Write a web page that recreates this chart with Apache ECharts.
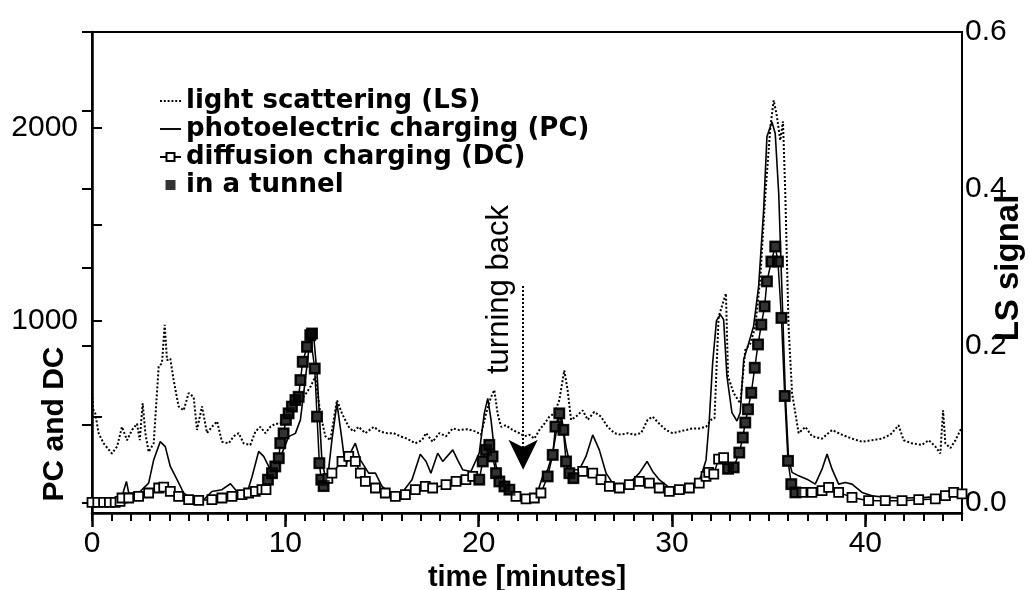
<!DOCTYPE html>
<html><head><meta charset="utf-8">
<script src="https://cdn.jsdelivr.net/npm/echarts@6/dist/echarts.min.js"></script>
<style>html,body{margin:0;padding:0;background:#fff}#c{width:1029px;height:590px}</style>
</head><body><div id="c"></div>
<script>
// time [minutes], LS signal
const lsData = [[0.0,0.14],[0.05,0.12],[0.17,0.114],[0.34,0.089],[0.6,0.076],[1.03,0.063],[1.3,0.072],[1.55,0.097],[1.81,0.080],[2.07,0.093],[2.33,0.101],[2.47,0.080],[2.62,0.127],[2.76,0.089],[2.93,0.065],[3.19,0.076],[3.45,0.174],[3.62,0.178],[3.76,0.227],[3.88,0.182],[4.05,0.184],[4.22,0.157],[4.48,0.123],[4.74,0.118],[5.0,0.140],[5.26,0.135],[5.43,0.093],[5.69,0.123],[5.95,0.089],[6.2,0.097],[6.47,0.104],[6.72,0.078],[7.07,0.076],[7.33,0.085],[7.59,0.089],[7.84,0.076],[8.19,0.074],[8.45,0.091],[8.71,0.097],[8.97,0.089],[9.22,0.097],[9.48,0.101],[9.74,0.101],[10.0,0.114],[10.34,0.118],[10.69,0.127],[11.03,0.138],[11.3,0.148],[11.55,0.161],[11.81,0.114],[12.07,0.085],[12.33,0.080],[12.67,0.131],[12.93,0.114],[13.28,0.097],[13.53,0.091],[13.79,0.097],[14.14,0.089],[14.57,0.097],[14.91,0.091],[15.26,0.089],[15.6,0.089],[15.95,0.085],[16.29,0.082],[16.72,0.076],[17.07,0.080],[17.28,0.089],[17.62,0.078],[17.97,0.089],[18.31,0.085],[18.66,0.095],[19.0,0.093],[19.43,0.094],[19.86,0.091],[20.12,0.087],[20.38,0.114],[20.64,0.135],[20.81,0.144],[20.98,0.114],[21.16,0.097],[21.41,0.099],[21.76,0.093],[22.1,0.089],[22.36,0.085],[22.62,0.087],[22.88,0.082],[23.14,0.093],[23.4,0.101],[23.66,0.110],[23.91,0.114],[24.17,0.131],[24.43,0.169],[24.6,0.144],[24.78,0.106],[25.03,0.110],[25.38,0.118],[25.64,0.106],[25.98,0.116],[26.33,0.110],[26.67,0.097],[27.02,0.089],[27.36,0.087],[27.71,0.089],[28.05,0.087],[28.4,0.089],[28.74,0.106],[29.0,0.110],[29.34,0.101],[29.69,0.093],[30.03,0.089],[30.38,0.091],[30.72,0.093],[31.07,0.095],[31.41,0.095],[31.76,0.097],[32.02,0.106],[32.2,0.108],[32.41,0.237],[32.79,0.267],[32.9,0.161],[33.19,0.140],[33.53,0.127],[33.79,0.195],[34.05,0.203],[34.31,0.225],[34.57,0.288],[34.83,0.394],[35.09,0.479],[35.26,0.513],[35.43,0.492],[35.6,0.462],[35.74,0.486],[35.86,0.394],[36.03,0.225],[36.21,0.140],[36.55,0.089],[36.9,0.097],[37.24,0.085],[37.76,0.082],[38.28,0.093],[38.79,0.087],[39.31,0.082],[39.83,0.078],[40.34,0.080],[40.86,0.082],[41.29,0.087],[41.72,0.099],[41.98,0.080],[42.41,0.076],[42.93,0.074],[43.28,0.080],[43.62,0.072],[43.88,0.063],[44.02,0.118],[44.14,0.076],[44.4,0.070],[44.66,0.080],[45.0,0.097]];

// photoelectric charging
const pcData = [[0,50],[0.5,48],[1.0,50],[1.4,55],[1.55,86],[1.78,164],[1.9,104],[2.41,104],[2.93,155],[3.19,276],[3.53,371],[3.79,345],[4.05,242],[4.4,173],[4.74,104],[5.17,69],[5.69,60],[6.2,112],[6.72,121],[7.16,152],[7.5,112],[8.02,104],[8.28,190],[8.62,320],[8.88,294],[9.14,242],[9.4,200],[9.83,311],[10.17,397],[10.52,414],[10.78,484],[11.03,691],[11.29,915],[11.47,915],[11.64,725],[11.9,259],[12.16,155],[12.41,380],[12.67,570],[12.93,380],[13.1,242],[13.36,311],[13.62,363],[13.88,276],[14.31,207],[14.66,207],[15.0,138],[15.52,95],[16.03,104],[16.55,173],[16.98,305],[17.28,268],[17.53,207],[17.88,311],[18.14,268],[18.66,328],[18.91,276],[19.17,225],[19.6,216],[20.03,311],[20.29,518],[20.47,596],[20.64,484],[20.9,242],[21.16,190],[21.5,147],[21.93,104],[22.45,78],[22.97,86],[23.31,190],[23.57,225],[23.83,311],[24.09,466],[24.26,518],[24.52,345],[24.78,225],[25.21,225],[25.55,294],[25.9,406],[26.24,328],[26.59,207],[26.93,155],[27.45,138],[27.97,173],[28.31,207],[28.71,268],[29.0,216],[29.34,173],[29.78,138],[30.29,112],[30.72,121],[31.16,138],[31.5,190],[31.76,276],[31.93,484],[32.1,777],[32.3,1000],[32.5,1031],[32.67,1005],[32.84,712],[33.1,522],[33.36,478],[33.53,522],[33.71,798],[33.97,884],[34.22,971],[34.48,1178],[34.74,1575],[34.91,1955],[35.17,2033],[35.34,1972],[35.52,1661],[35.69,1143],[35.86,625],[36.03,280],[36.21,211],[36.55,193],[36.98,176],[37.41,150],[37.76,228],[38.02,306],[38.28,228],[38.62,150],[38.97,159],[39.31,150],[39.83,107],[40.34,90],[41.03,81],[42.0,78],[43.0,80],[44.0,88],[44.57,107],[45.0,100]];

// diffusion charging (outside tunnels)
const dcData = [[0,55],[0.3,55],[0.6,55],[0.9,55],[1.2,55],[1.45,60],[1.55,78],[1.9,78],[2.41,86],[2.93,104],[3.45,130],[3.71,135],[4.05,112],[4.48,86],[5.0,69],[5.52,66],[6.2,69],[6.72,78],[7.24,86],[7.76,95],[8.1,104],[8.45,112],[8.79,121],[9.0,121],[12.2,180],[12.41,207],[12.93,268],[13.28,294],[13.62,268],[13.88,207],[14.14,164],[14.66,130],[15.17,104],[15.69,86],[16.21,95],[16.72,121],[17.24,138],[17.62,130],[18.31,147],[18.83,164],[19.34,173],[19.69,190],[21.93,86],[22.45,73],[22.88,78],[23.22,104],[25.38,216],[25.9,207],[26.33,173],[26.76,138],[27.28,130],[27.79,147],[28.31,164],[28.83,155],[29.34,130],[29.86,112],[30.38,121],[30.9,130],[31.41,155],[31.76,190],[31.9,211],[32.16,202],[32.41,280],[32.67,288],[36.72,107],[37.24,107],[37.76,116],[38.1,133],[38.62,107],[39.31,81],[40.17,64],[41.03,64],[41.9,64],[42.76,69],[43.62,73],[44.14,90],[44.57,107],[45.0,99]];

// diffusion charging measured in a tunnel
const tunnelData = [[9.1,173],[9.31,207],[9.48,242],[9.66,285],[9.74,363],[9.91,414],[10.03,484],[10.17,518],[10.34,553],[10.52,587],[10.69,604],[10.78,691],[10.9,786],[11.12,864],[11.29,924],[11.38,933],[11.52,751],[11.64,501],[11.76,259],[11.86,173],[11.98,140],
[20.03,173],[20.21,268],[20.38,328],[20.55,354],[20.72,294],[20.9,207],[21.07,164],[21.33,138],[21.59,121],
[23.57,190],[23.83,302],[23.97,449],[24.17,518],[24.38,432],[24.52,268],[24.69,207],[24.9,181],
[32.9,230],[33.19,237],[33.48,314],[33.66,392],[33.79,470],[33.93,539],[34.1,625],[34.28,755],[34.45,876],[34.62,979],[34.79,1074],[34.91,1204],[35.14,1307],[35.34,1385],[35.48,1307],[35.66,1014],[35.83,608],[36.0,271],[36.17,150],[36.38,107]];

const xLabels = [0,10,20,30,40];
const xMinor = Array.from({length:46},(_, i) => i);
const yLabels = [1000,2000];
const lsLabels = ['0.0','0.2','0.4','0.6'];
const names = ['light scattering (LS)','photoelectric charging (PC)','diffusion charging (DC)','in a tunnel'];
const turn = {time:22.3, top:1180, tip:225, text:'turning back'};

const dcAll = dcData.concat(tunnelData).sort((a,b)=>a[0]-b[0]);

// legend icons: dotted line, solid line, (default line+open square), filled square
let dots = '';
for (let i = 0; i < 24; i += 4) dots += 'M' + i + ',0h2v2h-2z';
const iconLS = 'path://' + dots;
const iconPC = 'path://M0,0h22v2h-22z';
const iconTun = 'path://M0,0h10v10h-10z';

const F = "'Liberation Sans', Arial, Helvetica, sans-serif";
const FL = "'DejaVu Sans', 'Liberation Sans', sans-serif";
const chart = echarts.init(document.getElementById('c'), null, {renderer:'canvas'});
chart.setOption({
  animation:false,
  backgroundColor:'#fff',
  textStyle:{fontFamily:F,color:'#000'},
  grid:[
    {left:92,right:67,top:32,bottom:77,show:true,borderColor:'#000',borderWidth:2,backgroundColor:'transparent',containLabel:false,outerBoundsMode:'none'},
    {left:92,right:67,top:32,bottom:87,containLabel:false,outerBoundsMode:'none'}
  ],
  legend:{
    orient:'vertical', left:154, top:83, itemWidth:21, itemHeight:10, itemGap:2,
    symbolKeepAspect:true,
    textStyle:{fontFamily:FL,fontSize:26,fontWeight:'bold',color:'#000'},
    data:[{name:names[0],icon:iconLS},{name:names[1],icon:iconPC},{name:names[2]},{name:names[3],icon:iconTun}]
  },
  xAxis:[{
    type:'value', min:0, max:45, position:'bottom', gridIndex:0,
    name:'time [minutes]', nameLocation:'middle', nameGap:45,
    nameTextStyle:{fontFamily:F,fontSize:29,fontWeight:'bold',color:'#000'},
    axisLine:{lineStyle:{color:'#000',width:2.5}},
    axisTick:{show:true,inside:false,length:8,customValues:xMinor,lineStyle:{color:'#000',width:2}},
    axisLabel:{customValues:xLabels,fontSize:30,color:'#000',margin:16,fontFamily:F},
    splitLine:{show:false}
  },{
    type:'value', min:0, max:45, position:'bottom', gridIndex:0,
    axisLine:{show:false},
    axisTick:{show:true,inside:false,length:14,customValues:xLabels,lineStyle:{color:'#000',width:2.5}},
    axisLabel:{show:false},
    splitLine:{show:false}
  },{
    type:'value', min:0, max:45, gridIndex:1, show:false
  }],
  yAxis:[{
    type:'value', min:0, max:2500, interval:500, position:'left', gridIndex:0,
    axisLine:{show:true,lineStyle:{color:'#000',width:2.5}},
    axisTick:{show:true,inside:true,length:10,lineStyle:{color:'#000',width:2}},
    axisLabel:{fontSize:30,color:'#000',margin:14,fontFamily:F,
      formatter:v=>yLabels.indexOf(v) >= 0 ? String(v) : ''},
    splitLine:{show:false}
  },{
    type:'value', min:0, max:0.6, interval:0.1, position:'right', gridIndex:1,
    axisLine:{show:false},
    axisTick:{show:true,inside:true,length:10,lineStyle:{color:'#000',width:2}},
    axisLabel:{fontSize:30,color:'#000',margin:3,fontFamily:F,
      formatter:v=>{const s=v.toFixed(1); return lsLabels.indexOf(s) >= 0 ? s : '';}},
    splitLine:{show:false}
  }],
  graphic:[
    {type:'text',x:55,y:424,rotation:Math.PI/2,style:{text:'PC and DC',x:0,y:0,align:'center',verticalAlign:'middle',fontFamily:F,fontSize:30,fontWeight:'bold',fill:'#000'}},
    {type:'text',x:1009,y:268,rotation:Math.PI/2,style:{text:'LS signal',x:0,y:0,align:'center',verticalAlign:'middle',fontFamily:F,fontSize:33,fontWeight:'bold',fill:'#000'}},
    {type:'text',x:499,y:374,rotation:Math.PI/2,style:{text:turn.text,x:0,y:0,align:'left',verticalAlign:'middle',fontFamily:F,fontSize:31,fill:'#000'}}
  ],
  series:[{
    name:names[0], type:'line', xAxisIndex:2, yAxisIndex:1, data:lsData, showSymbol:false, symbol:'none',
    lineStyle:{color:'#000',width:2,type:'dotted'}, itemStyle:{color:'#000'}, z:2
  },{
    name:names[1], type:'line', data:pcData, showSymbol:false, symbol:'none',
    lineStyle:{color:'#000',width:1.6}, itemStyle:{color:'#000'}, z:3,
    markLine:{silent:true, symbol:['none','arrow'], symbolSize:[22,30],
      lineStyle:{color:'#000',width:2,type:'dotted'}, label:{show:false},
      data:[[{coord:[turn.time,turn.top]},{coord:[turn.time,turn.tip]}]]}
  },{
    name:names[2], type:'line', data:dcAll, symbol:'rect', symbolSize:9, showSymbol:true,
    lineStyle:{color:'#000',width:1.5}, itemStyle:{color:'#fff',borderColor:'#000',borderWidth:1.8}, z:4
  },{
    name:names[3], type:'scatter', data:tunnelData, symbol:'rect', symbolSize:12,
    itemStyle:{color:'#000'}, z:5
  }]
});
</script></body></html>
